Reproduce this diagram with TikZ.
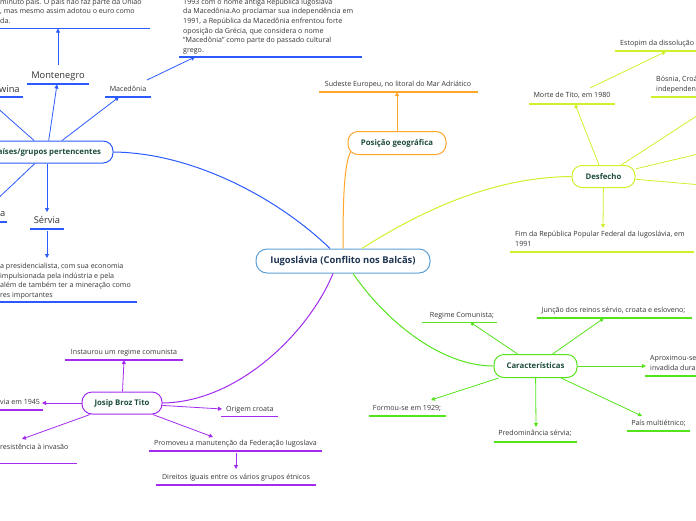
\documentclass[tikz,border=0pt]{standalone}
\usepackage{fontspec}
\setmainfont{Open Sans}
\usetikzlibrary{arrows.meta,calc}
\definecolor{cblue}{HTML}{2B5BFF}
\definecolor{corange}{HTML}{FFA62B}
\definecolor{cyel}{HTML}{CDF22B}
\definecolor{cgreen}{HTML}{55E31C}
\definecolor{cpurp}{HTML}{A22BF0}
\definecolor{ccen}{HTML}{5B9FD6}
\definecolor{leafgray}{HTML}{333333}
\definecolor{topicgreen}{HTML}{1E4D3C}
\definecolor{centext}{HTML}{1F3552}
\tikzset{
  leaf/.style={inner sep=0pt, text=leafgray, font=\fontsize{7.1}{9.6}\selectfont},
  bigleaf/.style={inner sep=0pt, text=leafgray, font=\fontsize{9.3}{11}\selectfont},
  topic/.style={draw, fill=white, rounded corners=10pt, line width=1pt, text=topicgreen,
    font=\bfseries\fontsize{7.8}{9}\selectfont, inner sep=0pt},
  conn/.style={line width=0.8pt, -{Triangle[length=4pt,width=4pt]}},
  uline/.style={line width=1.6pt},
  mainline/.style={line width=1pt}
}
\begin{document}
\begin{tikzpicture}[x=1pt,y=-1pt]
\useasboundingbox (0,0) rectangle (696,520);
\clip (0,0) rectangle (696,520);

% ---------- topic nodes ----------
\node[topic, draw=ccen, text=centext, font=\bfseries\fontsize{9.4}{10}\selectfont,
  minimum width=174pt, minimum height=24pt, rounded corners=11pt] (cen) at (343,261) {Iugoslávia (Conflito nos Balcãs)};
\node[topic, draw=cblue, minimum width=132pt, minimum height=22pt] (paises) at (47,152) {Países/grupos pertencentes};
\node[topic, draw=corange, minimum width=98pt, minimum height=23pt] (pos) at (397,143) {Posição geográfica};
\node[topic, draw=cyel, minimum width=63pt, minimum height=22pt] (des) at (603.5,176.5) {Desfecho};
\node[topic, draw=cpurp, minimum width=80pt, minimum height=22pt] (tito) at (122,403) {Josip Broz Tito};
\node[topic, draw=cgreen, minimum width=83pt, minimum height=23pt] (car) at (535.5,366) {Características};

% ---------- main curves ----------
\draw[cblue, mainline] ($(cen.north)+(-13,0)$) .. controls (280,200) and (195,153) .. (paises.east);
\draw[corange, mainline] (cen.north) .. controls (343,200) and (344,165) .. ($(pos.south west)+(3,-3)$);
\draw[cyel, mainline] ($(cen.north)+(19,0)$) .. controls (430,205) and (500,177) .. (des.west);
\draw[cgreen, mainline] ($(cen.south)+(10,0)$) .. controls (385,320) and (440,366) .. (car.west);
\draw[cpurp, mainline] ($(cen.south)+(-10,0)$) .. controls (310,330) and (240,402) .. (tito.east);

% ---------- blue branch ----------
\node[bigleaf, anchor=base] (mont) at (58,78.5) {Montenegro};
\draw[uline, cblue] (27,84) -- (89,84);
\coordinate (mont-t) at (57,84.5);
\coordinate (mont-s) at (58,65);
\node[leaf, align=left, anchor=north west] (montd) at (0,-2.5) {\rule{0pt}{6.5pt}minuto país. O país não faz parte da União\\, mas mesmo assim adotou o euro como\\da.};
\draw[uline, cblue] (0,28.5) -- (150,28.5);
\coordinate (montd-t) at (58,28.5);

\node[bigleaf, anchor=base west] (wina) at (-1,92.5) {wina};
\draw[uline, cblue] (0,97) -- (23,97);
\coordinate (wina-t) at (-15,97);

\node[leaf, anchor=base] (mac) at (128,91.5) {Macedônia};
\draw[uline, cblue] (105,97) -- (151,97);
\coordinate (mac-t) at (119,97);
\coordinate (mac-s) at (147,80);
\node[leaf, align=left, anchor=north west] (macd) at (183,-2.5) {\rule{0pt}{6.5pt}1993 com o nome antiga República Iugoslava\\da Macedônia.Ao proclamar sua independência em\\1991, a República da Macedônia enfrentou forte\\oposição da Grécia, que considera o nome\\"Macedônia" como parte do passado cultural\\grego.};
\draw[uline, cblue] (179,57) -- (362,57);
\coordinate (macd-t) at (195,57);

\node[bigleaf, anchor=base] (serv) at (47,223.5) {Sérvia};
\draw[uline, cblue] (30,229) -- (64,229);
\coordinate (serv-t) at (47,212);
\coordinate (serv-s) at (47,231);
\node[leaf, align=left, anchor=north west] (servd) at (0,262) {\rule{0pt}{6.5pt}a presidencialista, com sua economia\\impulsionada pela indústria e pela\\além de também ter a mineração como\\res importantes};
\draw[uline, cblue] (0,302) -- (137,302);
\coordinate (servd-t) at (47,258);

\node[bigleaf, anchor=base west] (aa) at (0,216) {a};
\draw[uline, cblue] (0,222) -- (7,222);
\coordinate (aa-t) at (-9,205);

\draw[conn, cblue] (paises) -- (mont-t);
\draw[conn, cblue] (paises) -- (wina-t);
\draw[conn, cblue] (paises) -- (mac-t);
\draw[conn, cblue] (paises) -- (serv-t);
\draw[conn, cblue] (paises) -- (aa-t);
\draw[conn, cblue] (mont-s) -- (montd-t);
\draw[conn, cblue] (mac-s) -- (macd-t);
\draw[conn, cblue] (serv-s) -- (servd-t);

% ---------- orange branch ----------
\node[leaf, anchor=base] (sud) at (398,86.5) {Sudeste Europeu, no litoral do Mar Adriático};
\draw[uline, corange] (319,92) -- (478,92);
\coordinate (sud-t) at (397,92);
\draw[conn, corange] (pos) -- (sud-t);

% ---------- yellow branch ----------
\node[leaf, anchor=base] (morte) at (572,97.5) {Morte de Tito, em 1980};
\draw[uline, cyel] (529,104) -- (615,104);
\coordinate (morte-t) at (575,104);
\coordinate (morte-s) at (590,88);
\node[leaf, anchor=base west] (est) at (620,45.5) {Estopim da dissolução};
\draw[uline, cyel] (615,51) -- (700,51);
\coordinate (est-t) at (666,51.5);
\node[leaf, align=left, anchor=north west] (bos) at (656,75) {\rule{0pt}{6.5pt}Bósnia, Croácia\\independentes};
\draw[uline, cyel] (651,97) -- (700,97);
\coordinate (bos-t) at (726,97);
\coordinate (d3-t) at (757,140);
\coordinate (d4-t) at (760,190);
\node[leaf, align=left, anchor=north west] (fim) at (515,230) {\rule{0pt}{6.5pt}Fim da República Popular Federal da Iugoslávia, em\\1991};
\draw[uline, cyel] (510,252) -- (694,252);
\coordinate (fim-t) at (603,228);

\draw[conn, cyel] (des) -- (morte-t);
\draw[conn, cyel] (morte-s) -- (est-t);
\draw[conn, cyel] (des) -- (bos-t);
\draw[conn, cyel] (des) -- (d3-t);
\draw[conn, cyel] (des) -- (d4-t);
\draw[conn, cyel] (des) -- (fim-t);

% ---------- purple branch ----------
\node[leaf, anchor=base] (inst) at (124,354.5) {Instaurou um regime comunista};
\draw[uline, cpurp] (65,360) -- (183,360);
\coordinate (inst-t) at (124,360);
\node[leaf, anchor=base west] (via) at (0,404.5) {via em 1945};
\draw[uline, cpurp] (0,410) -- (43,410);
\coordinate (via-t) at (42,403);
\node[leaf, anchor=base west] (res) at (0,449.5) {resistência à invasão};
\draw[uline, cpurp] (0,463.5) -- (77,463.5);
\coordinate (res-t) at (22,439);
\node[leaf, anchor=base west] (orig) at (226,411.5) {Origem croata};
\draw[uline, cpurp] (221,416.5) -- (278,416.5);
\coordinate (orig-t) at (222,409);
\node[leaf, anchor=base] (prom) at (235.5,445.5) {Promoveu a manutenção da Federação Iugoslava};
\draw[uline, cpurp] (149,451) -- (322,451);
\coordinate (prom-t) at (213,437);
\coordinate (prom-s) at (236,453);
\node[leaf, anchor=base] (dir) at (236,479.5) {Direitos iguais entre os vários grupos étnicos};
\draw[uline, cpurp] (156,485) -- (316,485);
\coordinate (dir-t) at (236,469);

\draw[conn, cpurp] (tito) -- (inst-t);
\draw[conn, cpurp] (tito) -- (via-t);
\draw[conn, cpurp] (tito) -- (res-t);
\draw[conn, cpurp] (tito) -- (orig-t);
\draw[conn, cpurp] (tito) -- (prom-t);
\draw[conn, cpurp] (prom-s) -- (dir-t);

% ---------- green branch ----------
\node[leaf, anchor=base] (reg) at (462,317) {Regime Comunista;};
\draw[uline, cgreen] (422,322.5) -- (497,322.5);
\coordinate (reg-t) at (470,322);
\node[leaf, anchor=base] (jun) at (613.5,312.5) {Junção dos reinos sérvio, croata e esloveno;};
\draw[uline, cgreen] (537,318) -- (692,318);
\coordinate (jun-t) at (604,318);
\node[leaf, align=left, anchor=north west] (apro) at (650,354) {\rule{0pt}{6.5pt}Aproximou-se\\invadida durante};
\draw[uline, cgreen] (645,376) -- (700,376);
\coordinate (apro-t) at (646,366);
\node[leaf, anchor=base] (form) at (407,410.5) {Formou-se em 1929;};
\draw[uline, cgreen] (369,416) -- (446,416);
\coordinate (form-t) at (431,400);
\node[leaf, anchor=base] (pred) at (535,435.5) {Predominância sérvia;};
\draw[uline, cgreen] (494,442) -- (577,442);
\coordinate (pred-t) at (536,427);
\node[leaf, anchor=base] (pais) at (658.5,425.5) {País multiétnico;};
\draw[uline, cgreen] (627,431) -- (690,431);
\coordinate (pais-t) at (642,416);

\draw[conn, cgreen] (car) -- (reg-t);
\draw[conn, cgreen] (car) -- (jun-t);
\draw[conn, cgreen] (car) -- (apro-t);
\draw[conn, cgreen] (car) -- (form-t);
\draw[conn, cgreen] (car) -- (pred-t);
\draw[conn, cgreen] (car) -- (pais-t);
\end{tikzpicture}
\end{document}
